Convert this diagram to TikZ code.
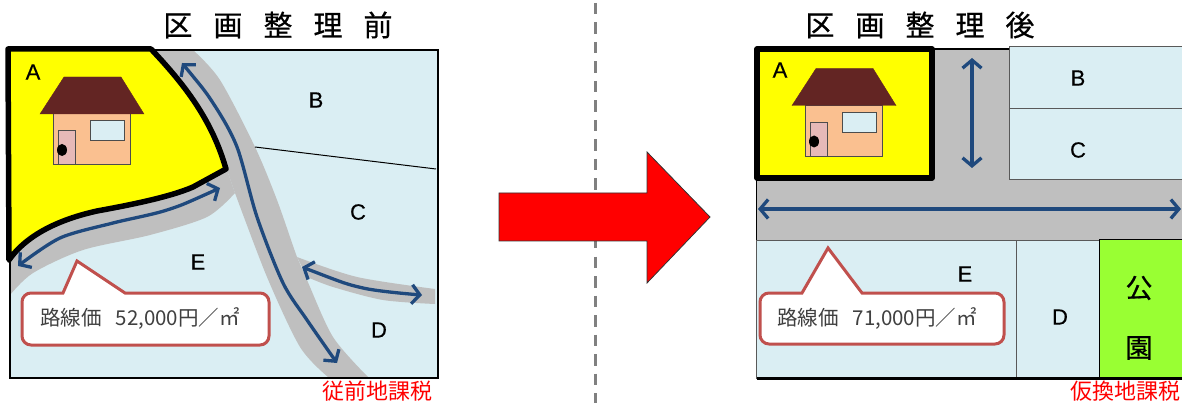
\documentclass[tikz,border=0pt]{standalone}
\usepackage{fontspec}
\setmainfont{Liberation Sans}
\newfontfamily\labelfont[FakeBold=0.35]{Liberation Sans}
\newfontfamily\cjk{Noto Sans CJK JP}
\newfontfamily\cjkb[FakeBold=0.6]{Noto Sans CJK JP}
\usetikzlibrary{arrows.meta}
\definecolor{lot}{HTML}{DAEEF3}
\definecolor{road}{HTML}{BFBFBF}
\definecolor{roofc}{HTML}{632523}
\definecolor{wallc}{HTML}{FAC090}
\definecolor{doorc}{HTML}{E6B9B8}
\definecolor{navy}{HTML}{1F497D}
\definecolor{callc}{HTML}{C0504D}
\definecolor{parkc}{HTML}{99FF33}
\definecolor{yel}{HTML}{FFFF00}
\definecolor{redc}{HTML}{FF0000}
\tikzset{
  x=1pt,y=-1pt,
  lotbox/.style={fill=lot,draw=black!65,line width=1pt},
  roadarrow/.style={draw=navy,line width=3.3pt,line cap=round,line join=round,{Straight Barb[length=8pt,width=19pt,line width=3.3pt]}-{Straight Barb[length=8pt,width=19pt,line width=3.3pt]}},
  lotlabel/.style={font=\labelfont\fontsize{22}{24}\selectfont,inner sep=0pt},
  titletext/.style={font=\cjkb\fontsize{29}{32}\selectfont,inner sep=0pt},
  taxtext/.style={font=\cjk\fontsize{22}{26}\selectfont,text=redc,inner sep=0pt},
  parktext/.style={font=\cjkb\fontsize{27}{30}\selectfont,inner sep=0pt},
  calltext/.style={font=\cjk\fontsize{20.5}{24}\selectfont,text=black!75,inner sep=0pt},
  callout/.style={fill=white,draw=callc,line width=3pt},
  housepart/.style={draw=black!70,line width=1pt},
}
\newcommand{\titlegap}{\hspace{21pt}}
\newcommand{\drawhouse}[2]{%
 \begin{scope}[shift={(#1,#2)}]
  \filldraw[housepart,fill=wallc] (13,37) rectangle (90,88);
  \filldraw[housepart,fill=lot] (50,44) rectangle (84,64);
  \filldraw[housepart,fill=doorc] (18,54) rectangle (35,88);
  \fill[black] (22,73) ellipse (5 and 6);
  \filldraw[fill=roofc,draw=roofc] (24,0) -- (81,0) -- (104,37) -- (0,37) -- cycle;
 \end{scope}}
\begin{document}
\begin{tikzpicture}
\useasboundingbox (0,0) rectangle (1182,403);
% divider
\draw[draw=black!50,line width=3pt,dash pattern=on 11.5pt off 8pt] (595,3) -- (595,403);
% big arrow
\filldraw[fill=redc,draw=black!80,line width=.8pt] (499,193) -- (647,193) -- (647,152) -- (710,217) -- (647,283) -- (647,241) -- (499,241) -- cycle;
% titles
\node[titletext] (t1) at (278,25) {区\titlegap 画\titlegap 整\titlegap 理\titlegap 前};
\node[titletext] (t2) at (920,25) {区\titlegap 画\titlegap 整\titlegap 理\titlegap 後};

% ---------- LEFT ----------
\fill[lot] (10,50) rectangle (437,378);
\fill[road] plot[smooth] coordinates {(157,50) (187,90) (210,125) (227,170)} -- (235,193)
  -- plot[smooth] coordinates {(235,193) (207,217) (150,235) (83,250) (33,273) (10,295)}
  -- (10,250) -- (60,200) -- (157,50) -- cycle;
\fill[road] (157,50) -- (193,50) -- plot[smooth] coordinates {(193,50) (220,80) (255,147) (277,200) (297,257) (307,280) (333,337) (368,377)}
  -- plot[smooth] coordinates {(328,377) (300,347) (267,277) (235,193)} -- (227,170) -- cycle;
\fill[road] plot[smooth] coordinates {(297,257) (357,277) (435,289)} -- (435,304)
  -- plot[smooth] coordinates {(435,304) (383,300) (333,287) (307,277)} -- cycle;
\draw[black,line width=1pt] (255,147) -- (436,169);
\draw[black,line width=2pt] (10,50) rectangle (438,378);
\filldraw[fill=yel,draw=black,line width=5.5pt,line join=round]
  (8,49) -- (151,49) .. controls (185,85) and (212,120) .. (226,169)
  -- (193,187) .. controls (170,197) and (130,205) .. (97,211)
  .. controls (70,217) and (30,230) .. (9,260) -- cycle;
\drawhouse{40}{77}
\node[lotlabel] (la) at (33,72) {A};
\node[lotlabel] (lb) at (316,100) {B};
\node[lotlabel] (lc) at (358,212) {C};
\node[lotlabel] (ld) at (379,330) {D};
\node[lotlabel] (le) at (198,262) {E};
\coordinate (m1) at (182,63); \coordinate (m2) at (337,363);
\coordinate (s1) at (220,188); \coordinate (s2) at (18,266);
\coordinate (r1) at (302,267); \coordinate (r2) at (422,295);
\draw[roadarrow] plot[smooth] coordinates {(m1) (213,103) (237,147) (257,217) (283,283) (307,320) (m2)};
\draw[roadarrow] plot[smooth] coordinates {(s1) (167,210) (113,223) (60,238) (s2)};
\draw[roadarrow] plot[smooth] coordinates {(r1) (363,288) (r2)};
\filldraw[callout,rounded corners=9pt] (63,293) [sharp corners] -- (77,261) -- (125,293) [rounded corners=9pt] -- (269,293) -- (269,345) -- (22,345) -- (22,293) [sharp corners] -- cycle;
\node[calltext] (c1) at (140,319) {路線価\hspace{14pt}52,000円／㎡};
\node[taxtext] (tax1) at (377,391) {従前地課税};

% ---------- RIGHT ----------
\fill[road] (756,49) rectangle (1182,241);
\draw[black,line width=1.6pt] (932,49) -- (1009,49);
\draw[black,line width=1pt] (756,178) -- (756,241);
\filldraw[lotbox] (1009,47) rectangle (1183,108.5);
\filldraw[lotbox] (1009,108.5) rectangle (1183,180);
\filldraw[lotbox] (756,241) rectangle (1016,378);
\filldraw[lotbox] (1016,241) rectangle (1099,378);
\filldraw[fill=parkc,draw=black,line width=1pt] (1099,240) rectangle (1183,378);
\draw[black,line width=3.5pt] (757,378.5) -- (1182,378.5);
\filldraw[fill=yel,draw=black,line width=5.5pt,line join=round] (757,49) rectangle (932,178);
\drawhouse{792}{68.5}
\node[lotlabel] (ra) at (780,70) {A};
\node[lotlabel] (rb) at (1078,78) {B};
\node[lotlabel] (rc) at (1078,150) {C};
\node[lotlabel] (rd) at (1060,317) {D};
\node[lotlabel] (re) at (965,274) {E};
\node[parktext] (p1) at (1139,288) {公};
\node[parktext] (p2) at (1139,348) {園};
\coordinate (v1) at (972,58); \coordinate (v2) at (972,168);
\coordinate (h1) at (758,209); \coordinate (h2) at (1181,209);
\draw[roadarrow] (v1) -- (v2);
\draw[roadarrow] (h1) -- (h2);
\filldraw[callout,rounded corners=9pt] (802,293) [sharp corners] -- (828,248) -- (862,293) [rounded corners=9pt] -- (1004,293) -- (1004,344) -- (760,344) -- (760,293) [sharp corners] -- cycle;
\node[calltext] (c2) at (877,319) {路線価\hspace{14pt}71,000円／㎡};
\node[taxtext] (tax2) at (1125,391) {仮換地課税};
\end{tikzpicture}
\end{document}
